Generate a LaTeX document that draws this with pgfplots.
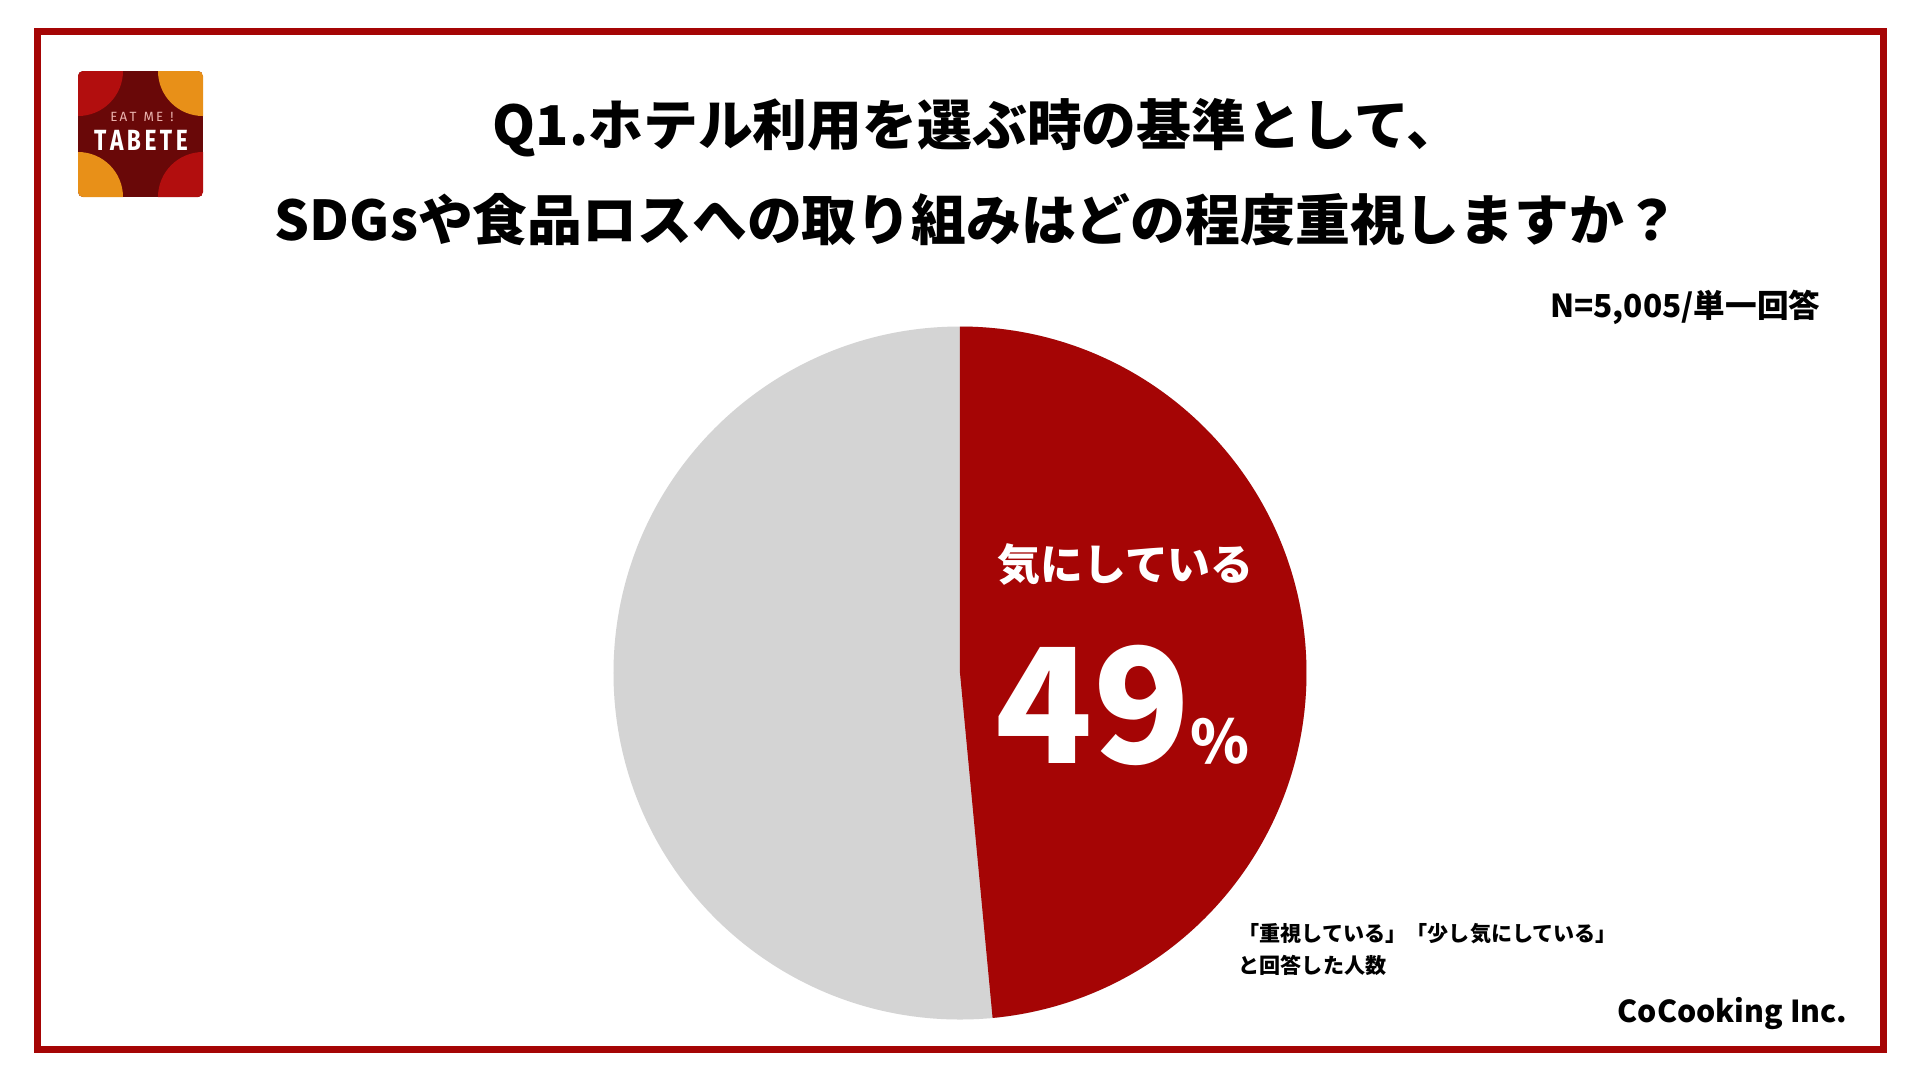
\documentclass[border=0pt]{standalone}
\usepackage{pgfplots}
\pgfplotsset{compat=1.18}
\usepackage{pgfplotstable}
\usepackage{fontspec}
\setmainfont{Noto Sans CJK JP}
\newfontfamily\logofont{Fira Sans}[FakeStretch=0.78]
\newfontfamily\logosmall{Fira Sans}
\definecolor{brd}{RGB}{165,5,5}
\definecolor{piered}{RGB}{165,5,5}
\definecolor{piegrey}{RGB}{212,212,212}
\definecolor{logomaroon}{RGB}{105,8,8}
\definecolor{logored}{RGB}{178,14,14}
\definecolor{logoorange}{RGB}{232,144,24}
\definecolor{logopink}{RGB}{235,180,175}

\pgfplotstableread{
label value
kinishiteiru 48.5
other 51.5
}\piedata

\begin{document}
\pgfplotstablegetelem{0}{value}\of\piedata
\let\valA\pgfplotsretval
\begin{tikzpicture}[x=0.1mm,y=-0.1mm]
\useasboundingbox (0,0) rectangle (1920,1080);
\fill[white] (0,0) rectangle (1920,1080);
\draw[brd, line width=0.7mm] (37,31.5) rectangle (1883,1049);

% logo
\begin{scope}
\clip[rounded corners=0.5mm] (78,71) rectangle (203,197);
\fill[logomaroon] (78,71) rectangle (203,197);
\fill[logored] (78,71) circle[radius=4.5mm];
\fill[logoorange] (203,71) circle[radius=4.5mm];
\fill[logoorange] (78,197) circle[radius=4.5mm];
\fill[logored] (203,197) circle[radius=4.5mm];
\end{scope}
\node[text=logopink, inner sep=0] at (142,117) {\logosmall\fontsize{3.8pt}{4pt}\selectfont E\,A\,T\ \ M\,E\ \ !};
\node[text=white, inner sep=0] at (141,140) {\logofont\bfseries\fontsize{8.3pt}{8.3pt}\selectfont T\kern1pt A\kern1pt B\kern1pt E\kern1pt T\kern1pt E};

% title
\node[inner sep=0] at (977,128) {\bfseries\fontsize{15.6pt}{15.6pt}\selectfont Q1.ホテル利用を選ぶ時の基準として、};
\node[inner sep=0] at (977,220) {\bfseries\fontsize{15.6pt}{15.6pt}\selectfont SDGsや食品ロスへの取り組みはどの程度重視しますか？};
\node[inner sep=0, anchor=east] at (1821,307) {\bfseries\fontsize{9pt}{9pt}\selectfont N=5,005/単一回答};

% pie
\begin{axis}[
  at={(96mm,-67.3mm)}, anchor=center,
  width=69.3mm, height=69.3mm, scale only axis,
  xmin=-1, xmax=1, ymin=-1, ymax=1,
  hide axis, clip=false,
]
\fill[piegrey] (axis cs:0,0) -- (axis cs:0,1) arc[start angle=90, end angle={90-3.6*\valA-360+3.6*\valA}, radius=34.65mm] -- cycle;
\fill[piered] (axis cs:0,0) -- (axis cs:0,1) arc[start angle=90, end angle={90-3.6*\valA}, radius=34.65mm] -- cycle;
\end{axis}

\node[inner sep=0, anchor=west, text=white] at (997,564) {\bfseries\fontsize{12.2pt}{12.2pt}\selectfont 気にしている};
\node[inner sep=0, anchor=base west, text=white] at (995,763) {\bfseries\fontsize{45.5pt}{45.5pt}\selectfont 49\fontsize{17pt}{17pt}\selectfont\%};

\node[inner sep=0, anchor=west] at (1238,934) {\bfseries\fontsize{6pt}{6pt}\selectfont 「重視している」「少し気にしている」};
\node[inner sep=0, anchor=west] at (1238,965) {\bfseries\fontsize{6pt}{6pt}\selectfont と回答した人数};
\node[inner sep=0, anchor=east] at (1848,1014) {\bfseries\fontsize{8.6pt}{8.6pt}\selectfont CoCooking Inc.};
\end{tikzpicture}
\end{document}
